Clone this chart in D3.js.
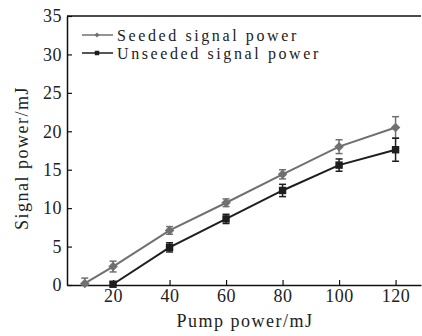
<!DOCTYPE html>
<html>
<head>
<meta charset="utf-8">
<script src="https://cdn.jsdelivr.net/npm/d3@7"></script>
<style>
  body { margin: 0; background: #fff; }
  text { font-family: "Liberation Serif", "Times New Roman", serif; }
</style>
</head>
<body>
<div id="chart"></div>
<script>
// data
var pump = [10, 20, 40, 60, 80, 100, 120];
var seeded = [0.2, 2.4, 7.1, 10.7, 14.4, 18.0, 20.5];
var seededErr = [0.7, 0.7, 0.5, 0.5, 0.6, 0.9, 1.4];
var unseededX = [20, 40, 60, 80, 100, 120];
var unseeded = [0.1, 4.9, 8.6, 12.3, 15.6, 17.6];
var unseededErr = [0.3, 0.6, 0.6, 0.8, 0.8, 1.5];
var xTicks = [20, 40, 60, 80, 100, 120];
var yTicks = [0, 5, 10, 15, 20, 25, 30, 35];

var W = 422, H = 336;
var m = {left: 67, right: 421, top: 16, bottom: 285};

var svg = d3.select("#chart").append("svg")
    .attr("width", W).attr("height", H);

var x = d3.scaleLinear().domain([3.7, 129]).range([m.left, m.right]);
var y = d3.scaleLinear().domain([0, 35]).range([m.bottom, m.top]);

// axes, ticks pointing inward
svg.append("g")
    .attr("transform", "translate(0," + m.bottom + ")")
    .call(d3.axisBottom(x).tickValues(xTicks).tickSizeInner(-5).tickSizeOuter(0).tickPadding(3))
    .call(function(g) {
      g.selectAll("text").style("font-size", "18px").style("letter-spacing", "0.5px").attr("fill", "#222").attr("dy", "0.75em");
      g.select(".domain").attr("stroke", "#111").attr("stroke-width", 1.5);
      g.selectAll(".tick line").attr("stroke", "#111").attr("stroke-width", 1.2);
    });

svg.append("g")
    .attr("transform", "translate(" + m.left + ",0)")
    .call(d3.axisLeft(y).tickValues(yTicks).tickSizeInner(-5).tickSizeOuter(0).tickPadding(5))
    .call(function(g) {
      g.selectAll("text").style("font-size", "18px").style("letter-spacing", "0.5px").attr("fill", "#222");
      g.select(".domain").attr("stroke", "#111").attr("stroke-width", 1.5);
      g.selectAll(".tick line").attr("stroke", "#111").attr("stroke-width", 1.2);
    });

// top frame line
svg.append("line")
    .attr("x1", m.left).attr("x2", m.right)
    .attr("y1", m.top).attr("y2", m.top)
    .attr("stroke", "#111").attr("stroke-width", 1.5);

// axis titles
svg.append("text")
    .attr("x", 245).attr("y", 327)
    .attr("text-anchor", "middle")
    .style("font-size", "18px").style("letter-spacing", "1.5px")
    .attr("fill", "#222")
    .text("Pump power/mJ");

svg.append("text")
    .attr("transform", "translate(28,158) rotate(-90)")
    .attr("text-anchor", "middle")
    .style("font-size", "18px").style("letter-spacing", "1.5px")
    .attr("fill", "#222")
    .text("Signal power/mJ");

var line = d3.line().x(function(d) { return x(d[0]); }).y(function(d) { return y(d[1]); });

function drawSeries(xs, ys, errs, color, diamond, size) {
  var pts = xs.map(function(v, i) { return [v, ys[i], errs[i]]; });
  var g = svg.append("g");
  g.append("path")
      .datum(pts)
      .attr("d", line)
      .attr("fill", "none")
      .attr("stroke", color)
      .attr("stroke-width", 2);
  // error bars
  var eb = g.selectAll(".eb").data(pts).enter().append("g");
  eb.append("line")
      .attr("x1", function(d) { return x(d[0]); }).attr("x2", function(d) { return x(d[0]); })
      .attr("y1", function(d) { return y(Math.max(0, d[1] - d[2])); })
      .attr("y2", function(d) { return y(d[1] + d[2]); })
      .attr("stroke", color).attr("stroke-width", 1.5);
  [-1, 1].forEach(function(s) {
    eb.append("line")
        .attr("x1", function(d) { return x(d[0]) - 3.5; }).attr("x2", function(d) { return x(d[0]) + 3.5; })
        .attr("y1", function(d) { return y(Math.max(0, d[1] + s * d[2])); })
        .attr("y2", function(d) { return y(Math.max(0, d[1] + s * d[2])); })
        .attr("stroke", color).attr("stroke-width", 1.5);
  });
  g.selectAll(".mk").data(pts).enter().append("path")
      .attr("d", d3.symbol().type(d3.symbolSquare).size(size))
      .attr("transform", function(d) {
        return "translate(" + x(d[0]) + "," + y(d[1]) + ")" + (diamond ? " rotate(45)" : "");
      })
      .attr("fill", color);
}

drawSeries(pump, seeded, seededErr, "#707070", true, 45);
drawSeries(unseededX, unseeded, unseededErr, "#1e1e1e", false, 55);

// legend
var legend = [
  {label: "Seeded signal power", color: "#707070", diamond: true},
  {label: "Unseeded signal power", color: "#1e1e1e", diamond: false}
];
var lg = svg.append("g");
legend.forEach(function(d, i) {
  var yy = 35 + i * 18;
  lg.append("line").attr("x1", 82).attr("x2", 113).attr("y1", yy).attr("y2", yy)
      .attr("stroke", d.color).attr("stroke-width", 1.5);
  lg.append("path")
      .attr("d", d3.symbol().type(d3.symbolSquare).size(d.diamond ? 12 : 20))
      .attr("transform", "translate(97," + yy + ")" + (d.diamond ? " rotate(45)" : ""))
      .attr("fill", d.color);
  lg.append("text")
      .attr("x", 117).attr("y", yy).attr("dy", "0.35em")
      .style("font-size", "16px").style("letter-spacing", "2.6px")
      .attr("fill", "#222")
      .text(d.label);
});
</script>
</body>
</html>
